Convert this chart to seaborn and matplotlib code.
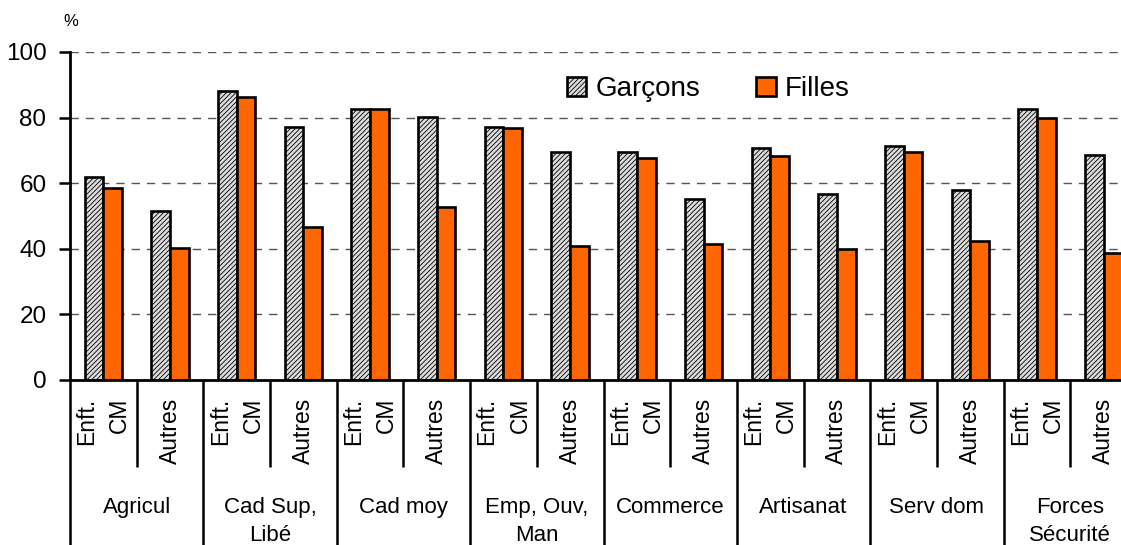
import matplotlib
matplotlib.use("Agg")
import matplotlib.pyplot as plt
from matplotlib.patches import Patch
import seaborn as sns
import pandas as pd

# categories
groups = ["Agricul", "Cad Sup,\nLibé", "Cad moy", "Emp, Ouv,\nMan",
          "Commerce", "Artisanat", "Serv dom", "Forces\nSécurité"]
sub_labels = ["Enft.\nCM", "Autres"]

# values (%), one per (group, sub) slot
garcons = [62, 51.5, 88, 77, 82.6, 80.2, 77, 69.5,
           69.5, 55.2, 70.7, 56.7, 71.3, 57.9, 82.6, 68.6]
filles = [58.5, 40.2, 86.3, 46.6, 82.6, 52.7, 76.8, 40.9,
          67.7, 41.5, 68.3, 39.9, 69.5, 42.4, 79.9, 38.7]

series = ["Garçons", "Filles"]
colors = {"Garçons": "#dcdcdc", "Filles": "#ff6600"}
hatch_col = "#8c8c8c"

slots = [f"{g}|{s}" for g in groups for s in sub_labels]
df = pd.DataFrame({
    "slot": slots * 2,
    "sexe": [series[0]] * len(slots) + [series[1]] * len(slots),
    "val": garcons + filles,
})

sns.set_theme(style="white")
plt.rcParams["font.family"] = ["Liberation Sans", "DejaVu Sans"]
plt.rcParams["text.color"] = "black"
plt.rcParams["hatch.linewidth"] = 0.6

fig = plt.figure(figsize=(11.21, 5.45), dpi=100)
ax = fig.add_axes([70 / 1121, 1 - 380 / 545, 1067 / 1121, 328 / 545])

sns.barplot(data=df, x="slot", y="val", hue="sexe", order=slots,
            hue_order=series, palette=colors, width=0.56, gap=0,
            edgecolor="black", linewidth=1.9, saturation=1, ax=ax,
            legend=False)

# hatch the boys' bars
for bar in ax.containers[0]:
    bar.set_hatch("///////")
    if hasattr(bar, "set_hatchcolor"):
        bar.set_hatchcolor(hatch_col)

ax.set_xlim(-0.5, len(slots) - 0.5)
ax.set_ylim(0, 100)
ax.set_yticks([0, 20, 40, 60, 80, 100])
ax.tick_params(axis="y", labelsize=17.5, length=8, width=1.8, direction="out",
               left=True, pad=9, colors="black")
ax.set_xticks([])
ax.set_xlabel("")
ax.set_ylabel("")
ax.yaxis.grid(True, linestyle=(0, (6, 5)), color="#555555", linewidth=1)
ax.set_axisbelow(True)
for side in ["top", "right"]:
    ax.spines[side].set_visible(False)
for side in ["left", "bottom"]:
    ax.spines[side].set_color("black")
    ax.spines[side].set_linewidth(2)

# hierarchical category axis
tr = ax.get_xaxis_transform()
for i in range(len(slots) + 1):
    x = i - 0.5
    y_end = -0.51 if i % 2 == 0 else -0.265
    ax.plot([x, x], [0, y_end], transform=tr, color="black", lw=1.8,
            clip_on=False, solid_capstyle="butt")
for i, s in enumerate(slots):
    ax.text(i, -0.055, s.split("|")[1], transform=tr, rotation=90,
            ha="center", va="top", fontsize=16.5, multialignment="right",
            linespacing=1.55)
for j, g in enumerate(groups):
    ax.text(2 * j + 0.5, -0.357, g, transform=tr, ha="center", va="top",
            fontsize=16, linespacing=1.45)

# legend
handles = [Patch(facecolor=colors["Garçons"], edgecolor="black", hatch="///////", lw=1.9),
           Patch(facecolor=colors["Filles"], edgecolor="black", lw=1.9)]
if hasattr(handles[0], "set_hatchcolor"):
    handles[0].set_hatchcolor(hatch_col)
ax.legend(handles, series, loc="upper left", bbox_to_anchor=(0.455, 0.96),
          ncol=2, frameon=False, fontsize=20, handlelength=0.7,
          handleheight=0.7, handletextpad=0.35, columnspacing=2.0,
          borderaxespad=0)

fig.text(63 / 1121, 1 - 22 / 545, "%", fontsize=12, va="center", ha="left")

fig.savefig("out.png", dpi=100)
